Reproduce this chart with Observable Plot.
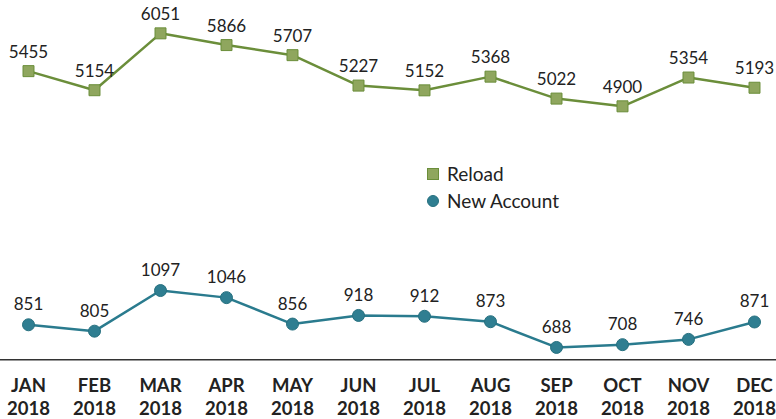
<!DOCTYPE html>
<html>
<head>
<meta charset="utf-8">
<script src="https://cdn.jsdelivr.net/npm/d3@7"></script>
<script src="https://cdn.jsdelivr.net/npm/@observablehq/plot@0.6"></script>
<style>
  html, body { margin: 0; padding: 0; background: #fff; }
  #chart { position: relative; width: 776px; height: 419px; font-family: Lato, "Open Sans", sans-serif; }
  #topPanel, #bottomPanel { position: absolute; left: 0; }
  #topPanel { top: 0; }
  #bottomPanel { top: 150px; }
  .legend { position: absolute; left: 427px; top: 160px; font-size: 19px; color: #222; z-index: 2; }
  .legend .item { display: flex; align-items: center; height: 27px; }
  .legend .sw { display: inline-block; width: 10px; height: 10px; margin-right: 8px; }
  .legend .sq { background: #8fa65e; border: 1px solid #6b8e3a; }
  .legend .ci { background: #2f7e91; border: 1px solid #26707f; border-radius: 50%; }
</style>
</head>
<body>
<div id="chart">
  <div id="topPanel"></div>
  <div id="bottomPanel"></div>
  <div class="legend">
    <div class="item"><span class="sw sq"></span>Reload</div>
    <div class="item"><span class="sw ci"></span>New Account</div>
  </div>
</div>
<script>
const months = ["JAN","FEB","MAR","APR","MAY","JUN","JUL","AUG","SEP","OCT","NOV","DEC"];
const year = "2018";
const reload = [5455,5154,6051,5866,5707,5227,5152,5368,5022,4900,5354,5193];
const newAccount = [851,805,1097,1046,856,918,912,873,688,708,746,871];

const reloadData = months.map((m, i) => ({month: m, value: reload[i]}));
const newData = months.map((m, i) => ({month: m, value: newAccount[i]}));

const xScale = {type: "point", domain: months, padding: 0, insetLeft: 28, insetRight: 22, axis: null};

const topChart = Plot.plot({
  width: 776, height: 150,
  marginLeft: 0, marginRight: 0, marginTop: 23.4, marginBottom: 31.5,
  style: {fontFamily: "Lato, 'Open Sans', sans-serif", background: "transparent"},
  x: xScale,
  y: {domain: [4700, 6200], axis: null},
  marks: [
    Plot.line(reloadData, {x: "month", y: "value", stroke: "#6b8e3a", strokeWidth: 2.5}),
    Plot.dot(reloadData, {x: "month", y: "value", symbol: "square", r: 6.2, fill: "#8fa65e", stroke: "#6b8e3a", strokeWidth: 1}),
    Plot.text(reloadData, {x: "month", y: "value", text: d => String(d.value), dy: -19, fontSize: 17, fill: "#222"})
  ]
});
document.getElementById("topPanel").appendChild(topChart);

const bottomChart = Plot.plot({
  width: 776, height: 269,
  marginLeft: 0, marginRight: 0, marginTop: 125.7, marginBottom: 59.8,
  style: {fontFamily: "Lato, 'Open Sans', sans-serif", background: "transparent", overflow: "visible"},
  x: {...xScale, axis: null},
  y: {domain: [600, 1200], axis: null},
  marks: [
    Plot.ruleY([600], {stroke: "#333", strokeWidth: 1.5}),
    Plot.axisX({tickSize: 0, tickPadding: 16, fontSize: 18.5, fontWeight: "bold", lineHeight: 1.25, fill: "#222", label: null, tickFormat: m => m + "\n" + year}),
    Plot.line(newData, {x: "month", y: "value", stroke: "#2a7b8e", strokeWidth: 2.5}),
    Plot.dot(newData, {x: "month", y: "value", r: 6, fill: "#2f7e91", stroke: "#26707f", strokeWidth: 1}),
    Plot.text(newData, {x: "month", y: "value", text: d => String(d.value), dy: -20, fontSize: 17, fill: "#222"})
  ]
});
document.getElementById("bottomPanel").appendChild(bottomChart);
</script>
</body>
</html>
